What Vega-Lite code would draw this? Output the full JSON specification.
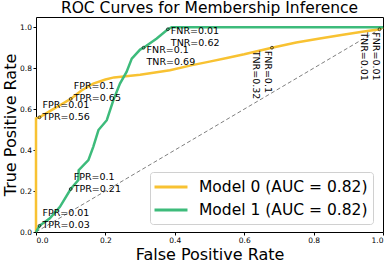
{
  "$schema": "https://vega.github.io/schema/vega-lite/v6.json",
  "width": 347,
  "height": 215,
  "autosize": {"type": "none"},
  "padding": {"left": 36, "top": 17, "right": 7, "bottom": 30},
  "background": "white",
  "title": {"text": "ROC Curves for Membership Inference", "fontSize": 15.5, "font": "DejaVu Sans", "fontWeight": "normal", "color": "black", "offset": 0.5},
  "config": {
    "font": "DejaVu Sans",
    "view": {"stroke": "black", "strokeWidth": 1},
    "axis": {"grid": false, "domain": false, "tickColor": "black", "tickSize": 3, "labelFontSize": 7.5, "labelColor": "black", "titleFontSize": 16, "titleFontWeight": "normal", "titleColor": "black", "labelPadding": 1.5}
  },
  "datasets": {
    "curves": [
      {"model": "Model 0 (AUC = 0.82)", "fpr": 0, "tpr": 0},
      {"model": "Model 0 (AUC = 0.82)", "fpr": 0, "tpr": 0.555},
      {"model": "Model 0 (AUC = 0.82)", "fpr": 0.01, "tpr": 0.56},
      {"model": "Model 0 (AUC = 0.82)", "fpr": 0.04, "tpr": 0.59},
      {"model": "Model 0 (AUC = 0.82)", "fpr": 0.07, "tpr": 0.62},
      {"model": "Model 0 (AUC = 0.82)", "fpr": 0.1, "tpr": 0.65},
      {"model": "Model 0 (AUC = 0.82)", "fpr": 0.13, "tpr": 0.69},
      {"model": "Model 0 (AUC = 0.82)", "fpr": 0.165, "tpr": 0.725},
      {"model": "Model 0 (AUC = 0.82)", "fpr": 0.2, "tpr": 0.745},
      {"model": "Model 0 (AUC = 0.82)", "fpr": 0.225, "tpr": 0.755},
      {"model": "Model 0 (AUC = 0.82)", "fpr": 0.3, "tpr": 0.768},
      {"model": "Model 0 (AUC = 0.82)", "fpr": 0.386, "tpr": 0.79},
      {"model": "Model 0 (AUC = 0.82)", "fpr": 0.45, "tpr": 0.815},
      {"model": "Model 0 (AUC = 0.82)", "fpr": 0.5, "tpr": 0.832},
      {"model": "Model 0 (AUC = 0.82)", "fpr": 0.55, "tpr": 0.85},
      {"model": "Model 0 (AUC = 0.82)", "fpr": 0.6, "tpr": 0.868},
      {"model": "Model 0 (AUC = 0.82)", "fpr": 0.68, "tpr": 0.9},
      {"model": "Model 0 (AUC = 0.82)", "fpr": 0.75, "tpr": 0.925},
      {"model": "Model 0 (AUC = 0.82)", "fpr": 0.818, "tpr": 0.945},
      {"model": "Model 0 (AUC = 0.82)", "fpr": 0.88, "tpr": 0.962},
      {"model": "Model 0 (AUC = 0.82)", "fpr": 0.94, "tpr": 0.978},
      {"model": "Model 0 (AUC = 0.82)", "fpr": 0.99, "tpr": 0.99},
      {"model": "Model 0 (AUC = 0.82)", "fpr": 1, "tpr": 1},
      {"model": "Model 1 (AUC = 0.82)", "fpr": 0, "tpr": 0},
      {"model": "Model 1 (AUC = 0.82)", "fpr": 0.01, "tpr": 0.03},
      {"model": "Model 1 (AUC = 0.82)", "fpr": 0.04, "tpr": 0.067},
      {"model": "Model 1 (AUC = 0.82)", "fpr": 0.069, "tpr": 0.123},
      {"model": "Model 1 (AUC = 0.82)", "fpr": 0.1, "tpr": 0.21},
      {"model": "Model 1 (AUC = 0.82)", "fpr": 0.122, "tpr": 0.254},
      {"model": "Model 1 (AUC = 0.82)", "fpr": 0.123, "tpr": 0.302},
      {"model": "Model 1 (AUC = 0.82)", "fpr": 0.151, "tpr": 0.351},
      {"model": "Model 1 (AUC = 0.82)", "fpr": 0.165, "tpr": 0.416},
      {"model": "Model 1 (AUC = 0.82)", "fpr": 0.18, "tpr": 0.498},
      {"model": "Model 1 (AUC = 0.82)", "fpr": 0.204, "tpr": 0.546},
      {"model": "Model 1 (AUC = 0.82)", "fpr": 0.223, "tpr": 0.644},
      {"model": "Model 1 (AUC = 0.82)", "fpr": 0.242, "tpr": 0.725},
      {"model": "Model 1 (AUC = 0.82)", "fpr": 0.261, "tpr": 0.782},
      {"model": "Model 1 (AUC = 0.82)", "fpr": 0.276, "tpr": 0.847},
      {"model": "Model 1 (AUC = 0.82)", "fpr": 0.3, "tpr": 0.891},
      {"model": "Model 1 (AUC = 0.82)", "fpr": 0.31, "tpr": 0.9},
      {"model": "Model 1 (AUC = 0.82)", "fpr": 0.348, "tpr": 0.945},
      {"model": "Model 1 (AUC = 0.82)", "fpr": 0.38, "tpr": 0.99},
      {"model": "Model 1 (AUC = 0.82)", "fpr": 0.391, "tpr": 1.0},
      {"model": "Model 1 (AUC = 0.82)", "fpr": 1, "tpr": 1}
    ],
    "diag": [{"fpr": 0, "tpr": 0}, {"fpr": 1, "tpr": 1}],
    "marks": [
      {"fpr": 0.01, "tpr": 0.56, "label": "FPR=0.01\nTPR=0.56", "kind": "below"},
      {"fpr": 0.1, "tpr": 0.65, "label": "FPR=0.1\nTPR=0.65", "kind": "below"},
      {"fpr": 0.01, "tpr": 0.03, "label": "FPR=0.01\nTPR=0.03", "kind": "below"},
      {"fpr": 0.1, "tpr": 0.21, "label": "FPR=0.1\nTPR=0.21", "kind": "below"},
      {"fpr": 0.31, "tpr": 0.9, "label": "FNR=0.1\nTNR=0.69", "kind": "above"},
      {"fpr": 0.38, "tpr": 0.99, "label": "FNR=0.01\nTNR=0.62", "kind": "above"},
      {"fpr": 0.68, "tpr": 0.9, "label": "FNR=0.1\nTNR=0.32", "kind": "rot"},
      {"fpr": 0.99, "tpr": 0.99, "label": "FNR=0.01\nTNR=0.01", "kind": "rot"}
    ]
  },
  "encoding": {
    "x": {"field": "fpr", "type": "quantitative", "scale": {"domain": [0, 1], "nice": false}, "axis": {"values": [0, 0.2, 0.4, 0.6, 0.8, 1.0], "format": ".1f", "title": "False Positive Rate", "titlePadding": 2}},
    "y": {"field": "tpr", "type": "quantitative", "scale": {"domain": [0, 1.05], "nice": false}, "axis": {"values": [0, 0.2, 0.4, 0.6, 0.8, 1.0], "format": ".1f", "title": "True Positive Rate", "titlePadding": 1}}
  },
  "layer": [
    {
      "data": {"name": "diag"},
      "mark": {"type": "line", "color": "#808080", "strokeDash": [4, 2.5], "strokeWidth": 1}
    },
    {
      "data": {"name": "curves"},
      "mark": {"type": "line", "strokeWidth": 2.5, "interpolate": "linear"},
      "encoding": {
        "color": {"field": "model", "type": "nominal", "scale": {"domain": ["Model 0 (AUC = 0.82)", "Model 1 (AUC = 0.82)"], "range": ["#F8C232", "#3DBB7B"]},
          "legend": {"title": null, "orient": "none", "legendX": 114, "legendY": 155, "symbolType": "M-2,0H2", "symbolSize": 272, "symbolStrokeWidth": 3, "symbolOffset": 6, "labelFontSize": 15.5, "labelLimit": 0, "labelColor": "black", "fillColor": "white", "strokeColor": "#d0d0d0", "cornerRadius": 3, "padding": 5, "rowPadding": 4, "labelOffset": 18}}
      }
    },
    {
      "data": {"name": "marks"},
      "mark": {"type": "point", "shape": "circle", "filled": false, "stroke": "black", "strokeWidth": 1, "size": 8}
    },
    {
      "data": {"name": "marks"},
      "transform": [{"filter": "datum.kind == 'below'"}],
      "mark": {"type": "text", "align": "left", "baseline": "bottom", "fontSize": 9.5, "lineHeight": 12, "lineBreak": "\n", "dx": 3, "dy": -7.5, "color": "black"},
      "encoding": {"text": {"field": "label"}}
    },
    {
      "data": {"name": "marks"},
      "transform": [{"filter": "datum.kind == 'above'"}],
      "mark": {"type": "text", "align": "left", "baseline": "top", "fontSize": 9.5, "lineHeight": 12, "lineBreak": "\n", "dx": 3, "dy": -3, "color": "black"},
      "encoding": {"text": {"field": "label"}}
    },
    {
      "data": {"name": "marks"},
      "transform": [{"filter": "datum.kind == 'rot'"}],
      "mark": {"type": "text", "align": "left", "baseline": "top", "angle": 90, "fontSize": 9.5, "lineHeight": 12, "lineBreak": "\n", "dx": 3, "dy": -1, "color": "black"},
      "encoding": {"text": {"field": "label"}}
    }
  ]
}
